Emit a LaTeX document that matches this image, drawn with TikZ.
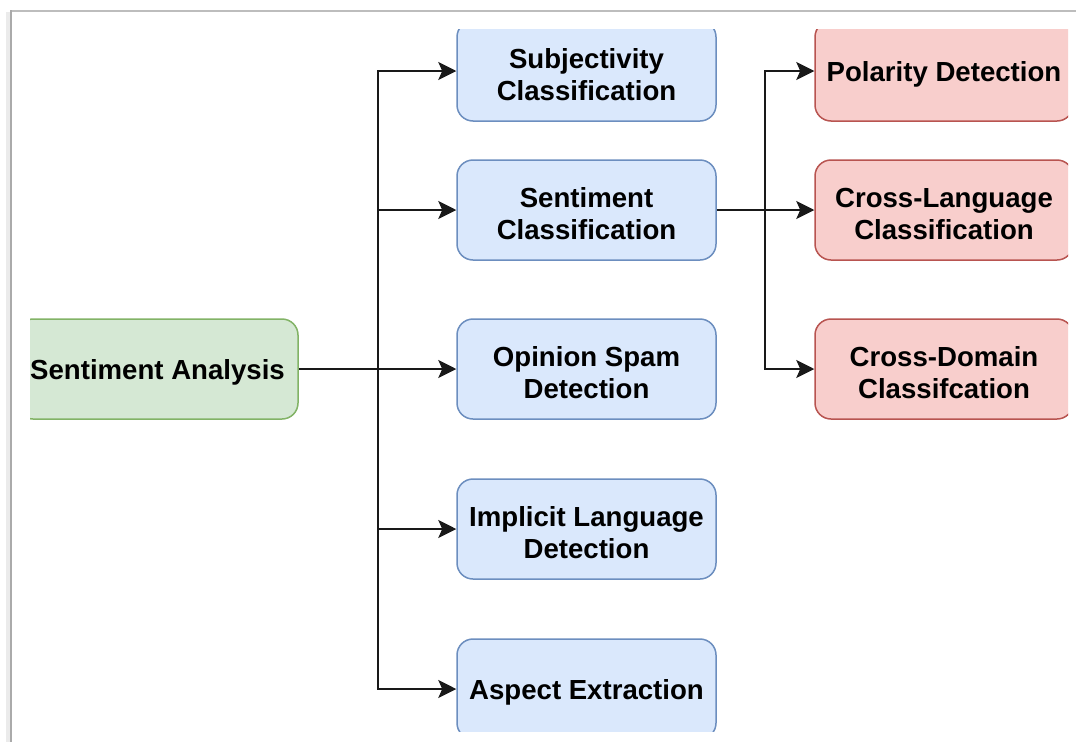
\documentclass[tikz,border=0pt]{standalone}
\usepackage{fontspec}
\setmainfont{Liberation Sans}
\usetikzlibrary{arrows.meta}
\definecolor{gfill}{HTML}{D5E8D4}\definecolor{gdraw}{HTML}{82B366}
\definecolor{bfill}{HTML}{DAE8FC}\definecolor{bdraw}{HTML}{6C8EBF}
\definecolor{rfill}{HTML}{F8CECC}\definecolor{rdraw}{HTML}{B85450}
\definecolor{framec}{HTML}{BDBDBD}
\begin{document}
\begin{tikzpicture}[x=1pt,y=-1pt,
  box/.style={rectangle,rounded corners=16pt,line width=1.5pt,minimum height=100pt,inner sep=0pt},
  gbox/.style={box,fill=gfill,draw=gdraw,minimum width=281pt},
  bbox/.style={box,fill=bfill,draw=bdraw,minimum width=259pt},
  rbox/.style={box,fill=rfill,draw=rdraw,minimum width=258pt},
  txt/.style={inner sep=0pt,align=center,yshift=-3.5pt,font=\fontsize{27.6}{32}\selectfont\bfseries,text=black},
  arr/.style={line width=1.6pt,draw=black!90,-{Stealth[length=18pt,width=18pt,inset=4pt]}}]
\useasboundingbox (0,0) rectangle (1076,742);
\fill[white] (0,0) rectangle (1076,742);
% frame
\draw[line width=4pt,black!8] (8,12) -- (8,742);
\draw[line width=2pt,framec] (11,10.5) -- (1076,10.5);
\draw[line width=2pt,framec!90!black] (11,10) -- (11,742);
\begin{scope}
\clip (30,29) rectangle (1068,731);
\node[gbox] (sa) at (157.5,369) {};
\node[bbox] (subj) at (586.5,71) {};
\node[bbox] (sc) at (586.5,210) {};
\node[bbox] (osd) at (586.5,369) {};
\node[bbox] (ild) at (586.5,529) {};
\node[bbox] (ae) at (586.5,689) {};
\node[rbox] (pol) at (944,71) {};
\node[rbox] (cl) at (944,210) {};
\node[rbox] (cd) at (944,369) {};
\node[txt] (sa-t) at (sa) {Sentiment Analysis};
\node[txt] (subj-t) at (subj) {Subjectivity\\Classification};
\node[txt] (sc-t) at (sc) {Sentiment\\Classification};
\node[txt] (osd-t) at (osd) {Opinion Spam\\Detection};
\node[txt] (ild-t) at (ild) {Implicit Language\\Detection};
\node[txt] (ae-t) at (ae) {Aspect Extraction};
\node[txt] (pol-t) at (pol) {Polarity Detection};
\node[txt] (cl-t) at (cl) {Cross-Language\\Classification};
\node[txt] (cd-t) at (cd) {Cross-Domain\\Classifcation};
\coordinate (j1) at (378,369);
\coordinate (j2) at (765,210);
\draw[arr] (sa.east) -- (osd.west);
\draw[arr] (j1) |- (subj.west);
\draw[arr] (j1) |- (sc.west);
\draw[arr] (j1) |- (ild.west);
\draw[arr] (j1) |- (ae.west);
\draw[arr] (sc.east) -- (cl.west);
\draw[arr] (j2) |- (pol.west);
\draw[arr] (j2) |- (cd.west);
\end{scope}
\end{tikzpicture}
\end{document}
